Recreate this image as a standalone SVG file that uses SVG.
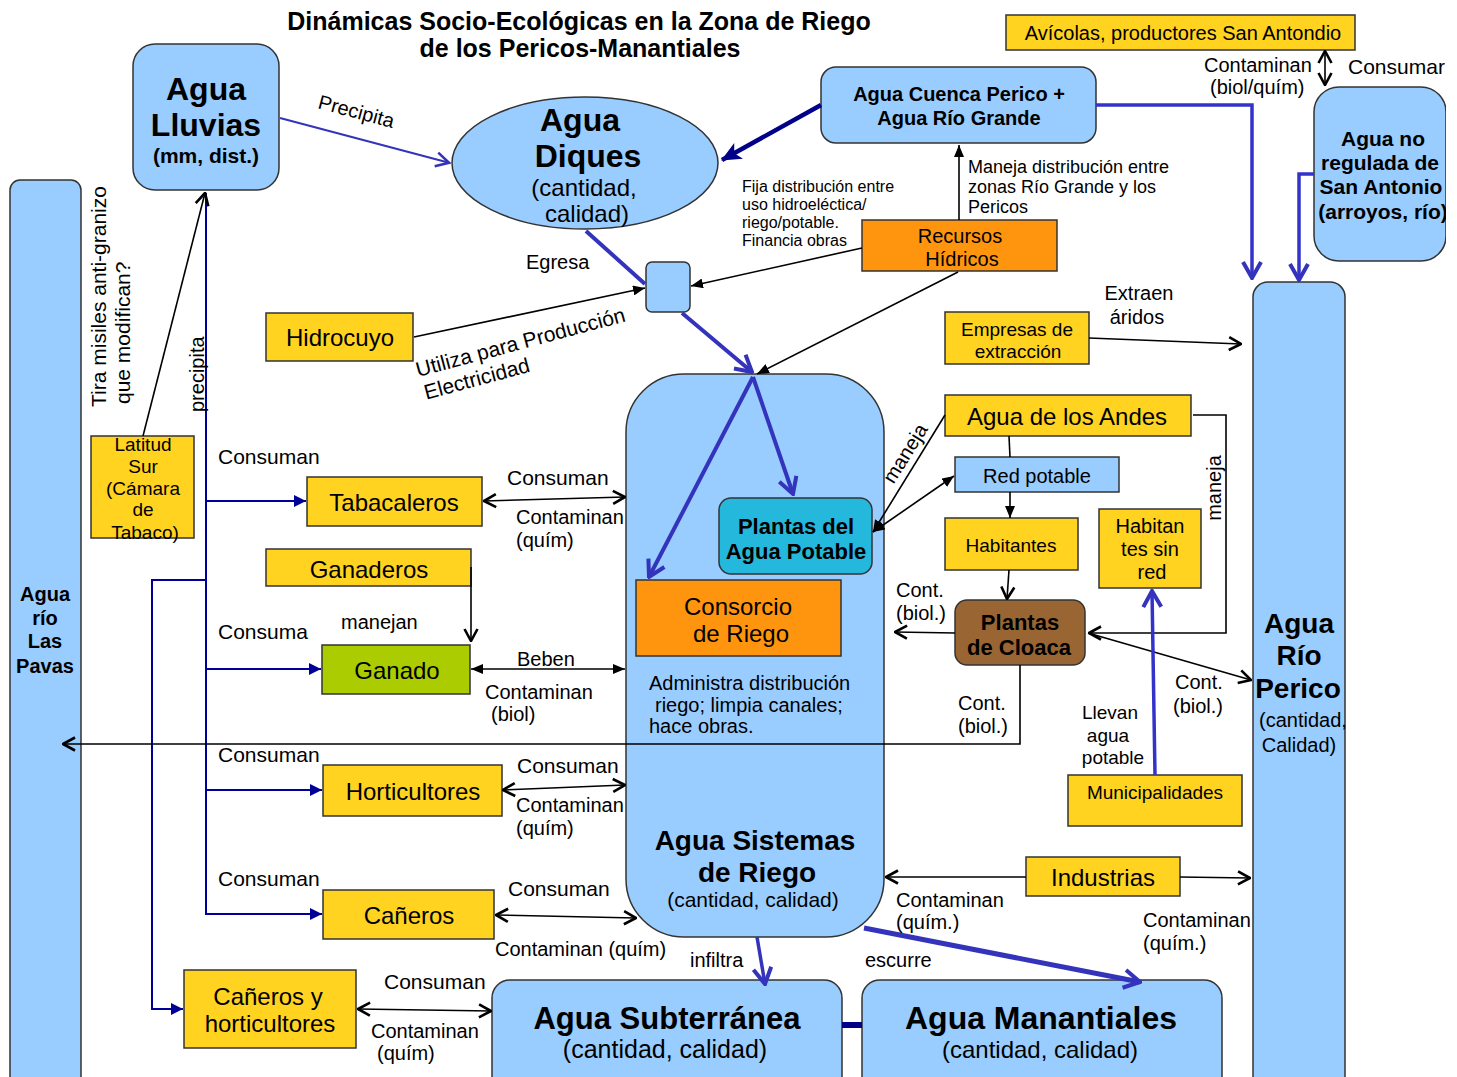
<svg xmlns="http://www.w3.org/2000/svg" width="1457" height="1077" viewBox="0 0 1457 1077">
<style>
text{font-family:"Liberation Sans",Arial,sans-serif;fill:#000}
.b{font-weight:bold}
.m{text-anchor:middle}
.lb{fill:#99ccff;stroke:#333;stroke-width:1.5}
.ye{fill:#ffd320;stroke:#333;stroke-width:1.5}
.or{fill:#ff950e;stroke:#333;stroke-width:1.5}
.k{fill:none;stroke:#000;stroke-width:1.6}
.nv{fill:none;stroke:#000099;stroke-width:2}
.bl{fill:none;stroke:#3333bb;stroke-width:4}
.t20{font-size:20px}
.t21{font-size:21px}
.t18{font-size:18px}
</style>
<defs>
<marker id="ok" viewBox="0 0 16 16" refX="15" refY="8" markerWidth="16" markerHeight="16" markerUnits="userSpaceOnUse" orient="auto-start-reverse"><path d="M3,1.5 L15,8 L3,14.5" fill="none" stroke="#000" stroke-width="2.6"/></marker>
<marker id="fk" viewBox="0 0 12 10" refX="12" refY="5" markerWidth="12" markerHeight="10" markerUnits="userSpaceOnUse" orient="auto-start-reverse"><path d="M0,0 L12,5 L0,10 z" fill="#000"/></marker>
<marker id="ob" viewBox="0 0 22 22" refX="20" refY="11" markerWidth="22" markerHeight="22" markerUnits="userSpaceOnUse" orient="auto"><path d="M4,2 L20,11 L4,20" fill="none" stroke="#3333bb" stroke-width="4"/></marker>
<marker id="obs" viewBox="0 0 18 18" refX="17" refY="9" markerWidth="18" markerHeight="18" markerUnits="userSpaceOnUse" orient="auto"><path d="M3,2 L16,9 L3,16" fill="none" stroke="#3333bb" stroke-width="2.6"/></marker>
<marker id="fn" viewBox="0 0 12 12" refX="12" refY="6" markerWidth="12" markerHeight="12" markerUnits="userSpaceOnUse" orient="auto"><path d="M0,0 L12,6 L0,12 z" fill="#000099"/></marker>
<marker id="fnb" viewBox="0 0 20 20" refX="19" refY="10" markerWidth="20" markerHeight="20" markerUnits="userSpaceOnUse" orient="auto"><path d="M0,1 L20,10 L0,19 L5,10 z" fill="#000088"/></marker>
<clipPath id="cr"><rect x="0" y="0" width="1446" height="1077"/></clipPath>
</defs>
<rect width="1457" height="1077" fill="#fff"/>

<g id="title">
<text class="b m" x="579" y="30" font-size="25">Dinámicas Socio-Ecológicas en la Zona de Riego</text>
<text class="b m" x="580" y="57" font-size="25">de los Pericos-Manantiales</text>
</g>

<g id="n-lluvias"><rect class="lb" x="133" y="44" width="146" height="146" rx="22"/>
<text class="b m" x="206" y="100" font-size="32">Agua</text><text class="b m" x="206" y="136" font-size="32">Lluvias</text><text class="b m" x="206" y="163" font-size="21">(mm, dist.)</text></g>

<g id="n-pavas"><rect class="lb" x="10" y="180" width="71" height="920" rx="10"/>
<g class="b m" font-size="20"><text x="45" y="601">Agua</text><text x="45" y="625">río</text><text x="45" y="648">Las</text><text x="45" y="673">Pavas</text></g></g>

<g id="n-diques"><ellipse class="lb" cx="585" cy="163" rx="133" ry="66"/>
<text class="b m" x="580" y="131" font-size="32">Agua</text><text class="b m" x="588" y="167" font-size="32">Diques</text>
<text class="m" x="584" y="196" font-size="24">(cantidad,</text><text class="m" x="587" y="222" font-size="24">calidad)</text></g>

<g id="n-cuenca"><rect class="lb" x="821" y="67" width="275" height="76" rx="15"/>
<text class="b m" x="959" y="101" font-size="20">Agua Cuenca Perico +</text><text class="b m" x="959" y="125" font-size="20">Agua Río Grande</text></g>

<g id="n-avicolas"><rect class="ye" x="1006" y="15" width="349" height="35"/>
<text class="m t20" x="1183" y="40">Avícolas, productores San Antondio</text></g>

<g id="n-sanantonio" clip-path="url(#cr)"><rect class="lb" x="1314" y="87" width="132" height="174" rx="25"/>
<g class="b m" font-size="21"><text x="1383" y="146">Agua no</text><text x="1380" y="170">regulada de</text><text x="1381" y="194">San Antonio</text><text x="1383" y="219">(arroyos, río)</text></g></g>

<g id="n-perico"><rect class="lb" x="1253" y="282" width="92" height="820" rx="15"/>
<g class="b m" font-size="28"><text x="1299" y="633">Agua</text><text x="1299" y="665">Río</text><text x="1298" y="698">Perico</text></g>
<text class="m t20" x="1303" y="727">(cantidad,</text><text class="m t20" x="1299" y="752">Calidad)</text></g>

<g id="n-recursos"><rect class="or" x="862" y="220" width="195" height="51"/>
<text class="m t20" x="960" y="243">Recursos</text><text class="m t20" x="962" y="266">Hídricos</text></g>

<g id="n-compuerta"><rect class="lb" x="646" y="262" width="44" height="50" rx="6"/></g>

<g id="n-hidrocuyo"><rect class="ye" x="266" y="313" width="147" height="48"/>
<text class="m" x="340" y="346" font-size="24">Hidrocuyo</text></g>

<g id="n-empresas"><rect class="ye" x="945" y="312" width="144" height="52"/>
<text class="m" x="1017" y="336" font-size="19">Empresas de</text><text class="m" x="1018" y="358" font-size="19">extracción</text></g>

<g id="n-latitud"><rect class="ye" x="91" y="436" width="103" height="102"/>
<g class="m" font-size="19"><text x="143" y="451">Latitud</text><text x="143" y="473">Sur</text><text x="143" y="495">(Cámara</text><text x="143" y="516">de</text><text x="145" y="539">Tabaco)</text></g></g>

<g id="n-sistemas"><rect class="lb" x="626" y="374" width="258" height="563" rx="58"/>
<text class="b m" x="755" y="850" font-size="28">Agua Sistemas</text><text class="b m" x="757" y="882" font-size="28">de Riego</text>
<text class="m" x="753" y="907" font-size="21">(cantidad, calidad)</text>
<g font-size="20"><text x="649" y="690">Administra distribución</text><text x="655" y="712">riego; limpia canales;</text><text x="649" y="733">hace obras.</text></g></g>

<g id="n-plantas-potable"><rect x="719" y="498" width="153" height="76" rx="12" fill="#23b8dc" stroke="#333" stroke-width="1.5"/>
<text class="b m" x="796" y="534" font-size="22">Plantas del</text><text class="b m" x="796" y="559" font-size="22">Agua Potable</text></g>

<g id="n-consorcio"><rect class="or" x="636" y="580" width="205" height="76"/>
<text class="m" x="738" y="615" font-size="24">Consorcio</text><text class="m" x="741" y="642" font-size="24">de Riego</text></g>

<g id="n-andes"><rect class="ye" x="945" y="395" width="246" height="41"/>
<text class="m" x="1067" y="425" font-size="24">Agua de los Andes</text></g>

<g id="n-red"><rect class="lb" x="955" y="457" width="164" height="35"/>
<text class="m t20" x="1037" y="483">Red potable</text></g>

<g id="n-habitantes"><rect class="ye" x="945" y="518" width="133" height="52"/>
<text class="m" x="1011" y="552" font-size="19">Habitantes</text></g>

<g id="n-sinred"><rect class="ye" x="1099" y="509" width="102" height="79"/>
<text class="m t20" x="1150" y="533">Habitan</text><text class="m t20" x="1150" y="556">tes sin</text><text class="m t20" x="1152" y="579">red</text></g>

<g id="n-cloaca"><rect x="955" y="600" width="130" height="65" rx="12" fill="#996633" stroke="#333" stroke-width="1.5"/>
<text class="b m" x="1020" y="630" font-size="22">Plantas</text><text class="b m" x="1019" y="655" font-size="22">de Cloaca</text></g>

<g id="n-municipalidades"><rect class="ye" x="1068" y="775" width="174" height="51"/>
<text class="m" x="1155" y="799" font-size="19">Municipalidades</text></g>

<g id="n-industrias"><rect class="ye" x="1026" y="857" width="154" height="39"/>
<text class="m" x="1103" y="886" font-size="24">Industrias</text></g>

<g id="n-tabacaleros"><rect class="ye" x="307" y="477" width="175" height="49"/>
<text class="m" x="394" y="511" font-size="24">Tabacaleros</text></g>

<g id="n-ganaderos"><rect class="ye" x="266" y="549" width="205" height="37"/>
<text class="m" x="369" y="578" font-size="24">Ganaderos</text></g>

<g id="n-ganado"><rect x="322" y="645" width="148" height="49" fill="#aacc00" stroke="#333" stroke-width="1.5"/>
<text class="m" x="397" y="679" font-size="24">Ganado</text></g>

<g id="n-horticultores"><rect class="ye" x="323" y="765" width="179" height="51"/>
<text class="m" x="413" y="800" font-size="24">Horticultores</text></g>

<g id="n-caneros"><rect class="ye" x="323" y="890" width="171" height="49"/>
<text class="m" x="409" y="924" font-size="24">Cañeros</text></g>

<g id="n-caneros-hort"><rect class="ye" x="184" y="970" width="172" height="78"/>
<text class="m" x="268" y="1005" font-size="24">Cañeros y</text><text class="m" x="270" y="1032" font-size="24">horticultores</text></g>

<g id="n-subterranea"><rect class="lb" x="492" y="980" width="350" height="120" rx="18"/>
<text class="b m" x="667" y="1029" font-size="31">Agua Subterránea</text><text class="m" x="665" y="1058" font-size="25">(cantidad, calidad)</text></g>

<g id="n-manantiales"><rect class="lb" x="862" y="980" width="360" height="120" rx="18"/>
<text class="b m" x="1041" y="1029" font-size="32">Agua Manantiales</text><text class="m" x="1040" y="1058" font-size="24">(cantidad, calidad)</text></g>

<g id="connectors">
<path class="nv" d="M206,193 V915"/>
<path class="nv" d="M206,501 H306" marker-end="url(#fn)"/>
<path class="nv" d="M206,669 H321" marker-end="url(#fn)"/>
<path class="nv" d="M206,790 H322" marker-end="url(#fn)"/>
<path class="nv" d="M206,914 H322" marker-end="url(#fn)"/>
<path class="nv" d="M206,580 H152 V1009 H183" marker-end="url(#fn)"/>
<path class="k" d="M143,436 L205,193" marker-end="url(#ok)"/>
<path class="k" d="M471,567 V641" marker-end="url(#ok)"/>
<path class="k" d="M414,337 L645,288" marker-end="url(#fk)"/>
<path class="k" d="M862,248 L691,286" marker-end="url(#fk)"/>
<path class="k" d="M959,220 V145" marker-end="url(#fk)"/>
<path class="k" d="M958,272 L757,374" marker-end="url(#fk)"/>
<path class="k" d="M1089,338 L1241,344" marker-end="url(#ok)"/>
<path class="k" d="M945,415 L873,532" marker-end="url(#fk)"/>
<path class="k" d="M873,532 L954,476" marker-start="url(#fk)" marker-end="url(#fk)"/>
<path class="k" d="M1009,436 L1010,457"/>
<path class="k" d="M1010,492 V518" marker-end="url(#fk)"/>
<path class="k" d="M1009,570 L1007,599" marker-end="url(#ok)"/>
<path class="k" d="M955,633 L895,632" marker-end="url(#ok)"/>
<path class="k" d="M1193,415 H1226 V633 H1089" marker-end="url(#ok)"/>
<path class="k" d="M1088,633 L1251,680" marker-end="url(#ok)"/>
<path class="k" d="M1020,665 V744 H63" marker-end="url(#ok)"/>
<path class="k" d="M1026,877 H886" marker-end="url(#ok)"/>
<path class="k" d="M1180,877 L1250,878" marker-end="url(#ok)"/>
<path class="k" d="M1325,51 V85" stroke-width="2" marker-start="url(#ok)" marker-end="url(#ok)"/>
<path class="k" d="M484,501 L625,497" marker-start="url(#ok)" marker-end="url(#ok)"/>
<path class="k" d="M471,669 H625" marker-start="url(#fk)" marker-end="url(#fk)"/>
<path class="k" d="M503,790 L625,785" marker-start="url(#ok)" marker-end="url(#ok)"/>
<path class="k" d="M496,915 L636,918" marker-start="url(#ok)" marker-end="url(#ok)"/>
<path class="k" d="M358,1009 L491,1011" marker-start="url(#ok)" marker-end="url(#ok)"/>
<path d="M280,118 L450,163" fill="none" stroke="#3333bb" stroke-width="2" marker-end="url(#obs)"/>
<path d="M821,105 L722,160" fill="none" stroke="#000088" stroke-width="4.5" marker-end="url(#fnb)"/>
<path class="bl" d="M586,231 L645,284"/>
<path class="bl" d="M682,313 L752,372" marker-end="url(#ob)"/>
<path class="bl" d="M753,377 L793,494" marker-end="url(#ob)"/>
<path class="bl" d="M753,377 L649,577" marker-end="url(#ob)"/>
<path d="M1096,105 H1252 V278" fill="none" stroke="#3333cc" stroke-width="3.5" marker-end="url(#ob)"/>
<path d="M1314,174 H1299 V280" fill="none" stroke="#3333cc" stroke-width="3.5" marker-end="url(#ob)"/>
<path d="M1155,775 L1152,591" fill="none" stroke="#3333cc" stroke-width="3.5" marker-end="url(#ob)"/>
<path d="M757,937 L765,984" fill="none" stroke="#3333bb" stroke-width="3.5" marker-end="url(#ob)"/>
<path d="M864,928 L1140,982" fill="none" stroke="#3333bb" stroke-width="5" marker-end="url(#ob)"/>
<path d="M842,1025 H862" stroke="#000088" stroke-width="6"/>
</g>

<g id="labels" class="t20">
<text x="317" y="108" transform="rotate(15 317 108)">Precipita</text>
<g transform="translate(418 377) rotate(-15)" font-size="21"><text x="0" y="0">Utiliza para Producción</text><text x="2" y="24">Electricidad</text></g>
<text x="526" y="269">Egresa</text>
<g font-size="16"><text x="742" y="192">Fija distribución entre</text><text x="742" y="210">uso  hidroeléctica/</text><text x="742" y="228">riego/potable.</text><text x="742" y="246">Financia obras</text></g>
<g font-size="18"><text x="968" y="173">Maneja distribución entre</text><text x="968" y="193">zonas Río Grande y los</text><text x="968" y="213">Pericos</text></g>
<text x="1204" y="72">Contaminan</text><text x="1210" y="94">(biol/quím)</text>
<g clip-path="url(#cr)"><text x="1348" y="74" font-size="21">Consumar</text></g>
<text class="m" x="1139" y="300">Extraen</text><text class="m" x="1137" y="324">áridos</text>
<text transform="translate(106 407) rotate(-90)" font-size="21">Tira misiles anti-granizo</text>
<text transform="translate(130 404) rotate(-90)" font-size="21">que modifican?</text>
<text transform="translate(204 412) rotate(-90)">precipita</text>
<text class="m" transform="translate(911 457) rotate(-58)">maneja</text>
<text class="m" transform="translate(1221 488) rotate(-90)">maneja</text>
<g class="t21"><text x="218" y="464">Consuman</text><text x="507" y="485">Consuman</text><text x="218" y="762">Consuman</text><text x="517" y="773">Consuman</text><text x="218" y="886">Consuman</text><text x="508" y="896">Consuman</text><text x="384" y="989">Consuman</text><text x="218" y="639">Consuma</text></g>
<text x="516" y="524">Contaminan</text><text x="516" y="547">(quím)</text>
<text x="341" y="629">manejan</text>
<text x="517" y="666">Beben</text><text x="485" y="699">Contaminan</text><text x="491" y="721">(biol)</text>
<text x="516" y="812">Contaminan</text><text x="516" y="835">(quím)</text>
<text x="495" y="956">Contaminan (quím)</text>
<text x="371" y="1038">Contaminan</text><text x="377" y="1060">(quím)</text>
<text x="896" y="597">Cont.</text><text x="896" y="620">(biol.)</text>
<text x="958" y="710">Cont.</text><text x="958" y="733">(biol.)</text>
<text x="1175" y="689">Cont.</text><text x="1173" y="713">(biol.)</text>
<g font-size="19"><text class="m" x="1110" y="719">Llevan</text><text class="m" x="1108" y="742">agua</text><text class="m" x="1113" y="764">potable</text></g>
<text x="896" y="907">Contaminan</text><text x="896" y="929">(quím.)</text>
<text x="1143" y="927">Contaminan</text><text x="1143" y="950">(quím.)</text>
<text x="690" y="967">infiltra</text>
<text x="865" y="967">escurre</text>
</g>
</svg>
